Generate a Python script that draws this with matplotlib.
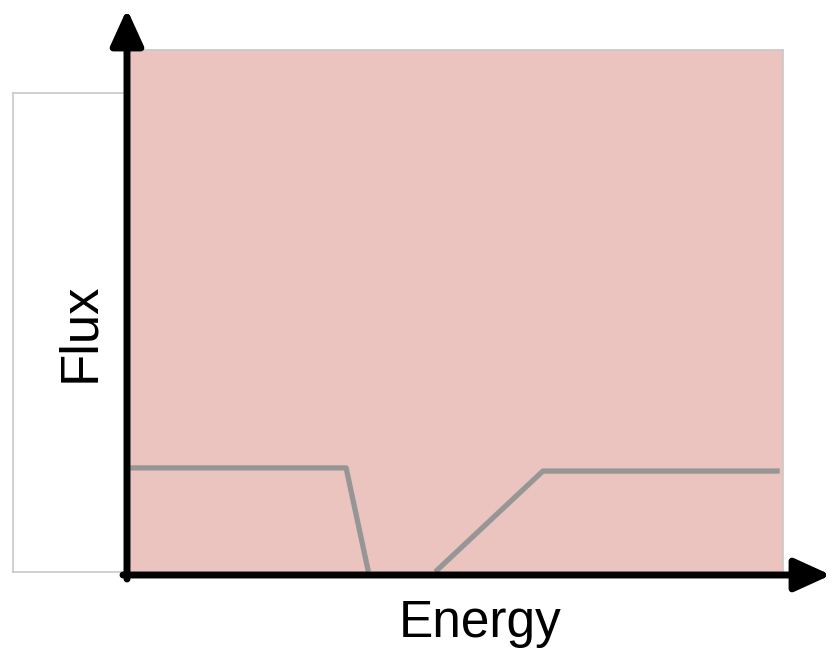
import matplotlib.pyplot as plt
from matplotlib.patches import FancyArrowPatch

# spectrum sketch (energy in arbitrary units 0..100, flux 0..100)
energy_low = [0.5, 33.4, 36.8]
flux_low = [20.4, 20.4, 0.6]
energy_high = [47.0, 63.4, 99.5]
flux_high = [0.6, 19.8, 19.8]

W, H = 839, 658
fig = plt.figure(figsize=(W / 100, H / 100), dpi=100)
plt.rcParams['font.family'] = ['Liberation Sans', 'DejaVu Sans']

# white box behind, left of the axis
bx = fig.add_axes([13 / W, (H - 572) / H, 114 / W, (572 - 93) / H])
bx.set_facecolor('white')
bx.set_xticks([])
bx.set_yticks([])
for s in bx.spines.values():
    s.set_color('#c8c8c8')
    s.set_linewidth(1.2)

# main pink panel
ax = fig.add_axes([127 / W, (H - 575) / H, (783 - 127) / W, (575 - 50) / H])
ax.set_facecolor('#ebc4bf')
ax.set_xlim(0, 100)
ax.set_ylim(0, 100)
ax.set_xticks([])
ax.set_yticks([])
for k in ['top', 'right']:
    ax.spines[k].set_color('#c8c8c8')
    ax.spines[k].set_linewidth(1.2)
for k in ['left', 'bottom']:
    ax.spines[k].set_visible(False)

ax.plot(energy_low, flux_low, color='#969696', lw=3.8, solid_capstyle='butt')
ax.plot(energy_high, flux_high, color='#969696', lw=3.8, solid_capstyle='butt')

# axis arrows in figure pixel space
def px(x, y):
    return (x / W, 1 - y / H)

style = '-|>,head_length=2.2,head_width=1.0'
fig.patches.append(FancyArrowPatch(px(127, 579), px(127, 9), transform=fig.transFigure,
                                   arrowstyle=style, mutation_scale=10, lw=5,
                                   color='black', shrinkA=0, shrinkB=0))
fig.patches.append(FancyArrowPatch(px(123, 575), px(831, 575), transform=fig.transFigure,
                                   arrowstyle=style, mutation_scale=10, lw=5,
                                   color='black', shrinkA=0, shrinkB=0))

fig.text(80 / W, 1 - 332 / H, 'Flux', rotation=90, fontsize=38,
         ha='center', va='center')
fig.text(480 / W, 1 - 637 / H, 'Energy', fontsize=37, ha='center', va='baseline')

fig.savefig('out.png', dpi=100)
